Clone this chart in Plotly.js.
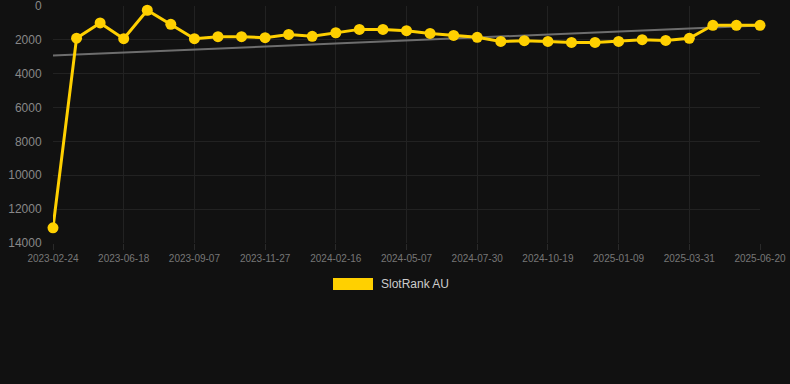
<!DOCTYPE html>
<html>
<head>
<meta charset="utf-8">
<script src="https://cdn.plot.ly/plotly-3.0.1.min.js"></script>
<style>html,body{margin:0;padding:0;background:#111111;}#chart{width:790px;height:384px;}</style>
</head>
<body>
<div id="chart"></div>
<script>
const dates = ["2023-02-24","2023-04-03","2023-05-11","2023-06-18","2023-07-15","2023-08-11","2023-09-07","2023-10-04","2023-10-31","2023-11-27","2023-12-24","2024-01-20","2024-02-16","2024-03-14","2024-04-10","2024-05-07","2024-06-04","2024-07-02","2024-07-30","2024-08-26","2024-09-22","2024-10-19","2024-11-15","2024-12-12","2025-01-09","2025-02-05","2025-03-04","2025-03-31","2025-04-27","2025-05-24","2025-06-20"];
const rankAU = [13100,1900,1000,1930,250,1080,1930,1810,1810,1870,1680,1790,1580,1380,1380,1460,1620,1740,1850,2090,2050,2090,2150,2150,2090,1990,2030,1910,1140,1140,1140];
const tickLabels = ["2023-02-24","2023-06-18","2023-09-07","2023-11-27","2024-02-16","2024-05-07","2024-07-30","2024-10-19","2025-01-09","2025-03-31","2025-06-20"];
const yTicks = [0,2000,4000,6000,8000,10000,12000,14000];
const seriesName = "SlotRank AU";

// linear regression trend over category index
const n = rankAU.length;
const xs = rankAU.map((_, i) => i);
const mx = xs.reduce((a, b) => a + b, 0) / n;
const my = rankAU.reduce((a, b) => a + b, 0) / n;
let sxy = 0, sxx = 0;
for (let i = 0; i < n; i++) { sxy += (xs[i] - mx) * (rankAU[i] - my); sxx += (xs[i] - mx) ** 2; }
const slope = sxy / sxx, icpt = my - slope * mx;
const trend = xs.map(i => icpt + slope * i);

const yellow = "#FFD000";
const traces = [
  {x: dates, y: trend, type: "scatter", mode: "lines", line: {color: "rgba(120,120,120,0.9)", width: 2}, hoverinfo: "skip", showlegend: false},
  {x: dates, y: rankAU, type: "scatter", mode: "lines+markers", name: seriesName,
   line: {color: yellow, width: 3}, marker: {color: yellow, size: 11}, cliponaxis: false, showlegend: false}
];

const layout = {
  width: 790, height: 384,
  paper_bgcolor: "#111111", plot_bgcolor: "#111111",
  margin: {l: 53, r: 30, t: 6, b: 141},
  font: {family: "Liberation Sans, Arial, sans-serif", color: "#888888"},
  showlegend: false,
  xaxis: {
    type: "category", range: [0, n - 1],
    tickmode: "array", tickvals: tickLabels, ticktext: tickLabels,
    showgrid: true, gridcolor: "#222222", gridwidth: 1,
    ticks: "outside", ticklen: 6, tickcolor: "#2a2a2a",
    tickfont: {size: 10, color: "#777777"}, zeroline: false, showline: false, tickangle: 0
  },
  yaxis: {
    range: [14000, -1], tickmode: "array", tickvals: yTicks, ticktext: yTicks.map(String),
    ticklabeloverflow: "allow",
    showgrid: true, gridcolor: "#222222", gridwidth: 1,
    ticks: "outside", ticklen: 8, tickcolor: "#111111",
    tickfont: {size: 12, color: "#888888"}, zeroline: false, showline: false
  },
  shapes: [
    {type: "rect", xref: "paper", yref: "paper", x0: (333-53)/707, x1: (373-53)/707, y0: -(278-243)/237, y1: -(290-243)/237,
     fillcolor: yellow, line: {width: 0}}
  ],
  annotations: [
    {xref: "paper", yref: "paper", x: (379-53)/707, y: -(284-243)/237, xanchor: "left", yanchor: "middle",
     text: seriesName, showarrow: false, font: {size: 12, color: "#cccccc"}}
  ]
};
Plotly.newPlot("chart", traces, layout, {displayModeBar: false, staticPlot: true});
</script>
</body>
</html>
